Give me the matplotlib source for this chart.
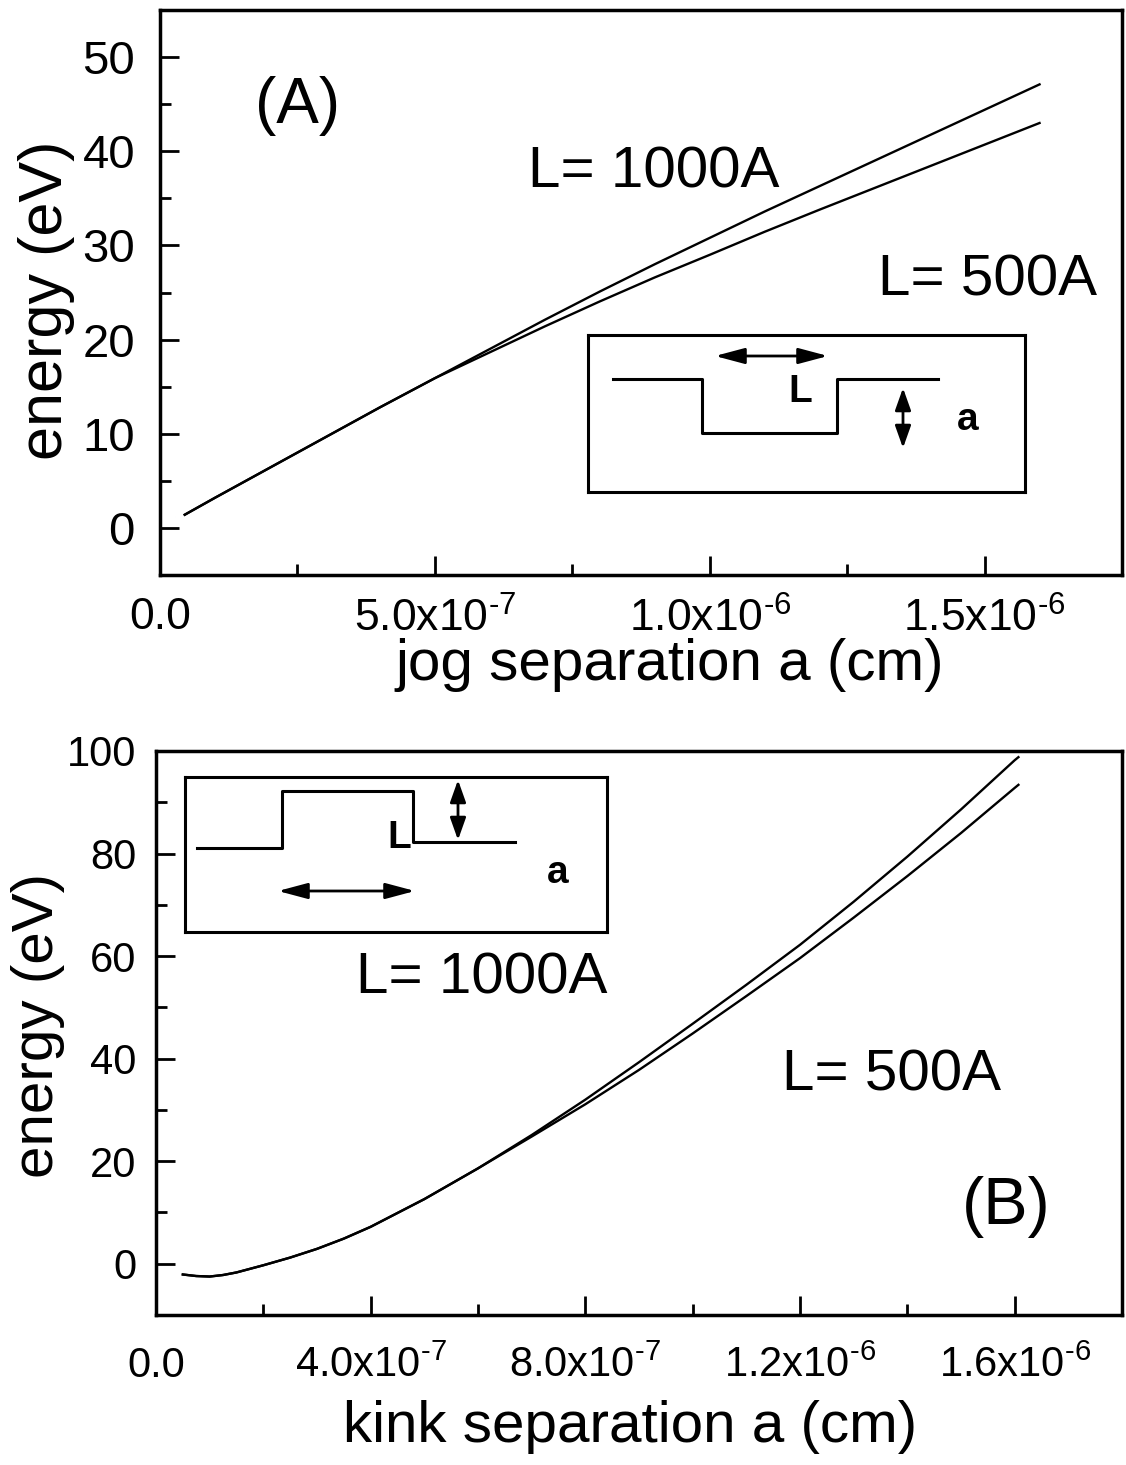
import numpy as np
import matplotlib
matplotlib.use("Agg")
import matplotlib.pyplot as plt
from matplotlib.ticker import MultipleLocator, FuncFormatter

plt.rcParams['font.family'] = ['Liberation Sans', 'DejaVu Sans']
plt.rcParams['mathtext.default'] = 'regular'

# --- values ---
# (A) jog separation a (cm) -> energy (eV)
jog_a = np.array([0.45, 1, 2, 3, 4, 5, 6, 7, 8, 9, 10, 11, 12, 13, 14, 15, 16]) * 1e-7
jog_L1000 = [1.4, 3.2, 6.4, 9.6, 12.8, 15.9, 19.0, 22.1, 25.1, 28.0, 30.8, 33.6, 36.3, 39.0, 41.7, 44.4, 47.1]
jog_L500 = [1.4, 3.2, 6.4, 9.6, 12.8, 15.9, 18.65, 21.4, 24.05, 26.6, 29.0, 31.45, 33.8, 36.1, 38.4, 40.7, 43.0]

# (B) kink separation a (cm) -> energy (eV)
kink_a = np.array([0.5, 0.75, 1.0, 1.25, 1.5, 2, 2.5, 3, 3.5, 4, 5, 6, 7, 8, 9, 10,
                   11, 12, 13, 14, 15, 16, 16.07]) * 1e-7
kink_L1000 = [-2.1, -2.4, -2.5, -2.2, -1.7, -0.3, 1.2, 2.9, 4.9, 7.2, 12.6, 18.6, 25.1,
              32.0, 39.3, 46.8, 54.4, 62.2, 70.6, 79.4, 88.6, 98.2, 98.8]
kink_L500 = [-2.1, -2.4, -2.5, -2.2, -1.7, -0.3, 1.2, 2.9, 4.9, 7.2, 12.6, 18.6, 24.8,
             31.1, 37.8, 44.9, 52.2, 59.6, 67.5, 75.6, 84.0, 92.8, 93.4]

W, H = 1126, 1465


def sci_fmt(v, pos):
    if abs(v) < 1e-12:
        return '0.0'
    exp = int(np.floor(np.log10(abs(v))))
    mant = v / 10**exp
    if round(mant, 1) >= 10:
        mant /= 10
        exp += 1
    # plain hyphen in the exponent, like the original
    return f'{mant:.1f}x10$^{{\u2010{abs(exp)}}}$'


def style_axes(ax, xmaj, xmin, ymaj, ymin, ysize, xsize, xpad, ypad):
    for s in ax.spines.values():
        s.set_linewidth(2.5)
    ax.xaxis.set_major_locator(MultipleLocator(xmaj))
    ax.xaxis.set_minor_locator(MultipleLocator(xmin))
    ax.yaxis.set_major_locator(MultipleLocator(ymaj))
    ax.yaxis.set_minor_locator(MultipleLocator(ymin))
    ax.xaxis.set_major_formatter(FuncFormatter(sci_fmt))
    ax.tick_params(which='both', direction='in', top=False, right=False, width=2)
    ax.tick_params(which='major', length=14)
    ax.tick_params(which='minor', length=8)
    ax.tick_params(axis='y', labelsize=ysize, pad=ypad)
    ax.tick_params(axis='x', labelsize=xsize, pad=xpad)


def px_rect(left, top, w, h):
    return [left / W, 1 - (top + h) / H, w / W, h / H]


def inset(rect_px):
    ax = fig.add_axes(px_rect(*rect_px))
    ax.set_xlim(0, rect_px[2])
    ax.set_ylim(rect_px[3], 0)
    ax.set_xticks([])
    ax.set_yticks([])
    for s in ax.spines.values():
        s.set_linewidth(2.2)
    return ax


def dbl_arrow(ax, p0, p1, hl=0.6):
    ax.annotate('', xy=p1, xytext=p0,
                arrowprops=dict(arrowstyle=f'<|-|>,head_length={hl},head_width=0.16',
                                color='k', lw=2, mutation_scale=30,
                                shrinkA=0, shrinkB=0))


fig = plt.figure(figsize=(W / 100, H / 100), dpi=100)

# ---------------- (A) ----------------
ax1 = fig.add_axes(px_rect(160, 10, 962, 565))
ax1.plot(jog_a, jog_L1000, color='k', lw=1.7)
ax1.plot(jog_a, jog_L500, color='k', lw=1.7)
ax1.set_xlim(0, 1.75e-6)
ax1.set_ylim(-5, 55)
style_axes(ax1, 5e-7, 2.5e-7, 10, 5, 34, 32, 16, 18)
ax1.set_xlabel('jog separation a (cm)', fontsize=42)
ax1.xaxis.set_label_coords(0.530, -0.112)
ax1.set_ylabel('energy (eV)', fontsize=44)
ax1.yaxis.set_label_coords(-0.088, 0.487)
ax1.text(0.1435, 0.830, '(A)', transform=ax1.transAxes, fontsize=46, ha='center', va='center')
ax1.text(0.5135, 0.713, 'L= 1000A', transform=ax1.transAxes, fontsize=42, ha='center', va='center')
ax1.text(0.8597, 0.522, 'L= 500A', transform=ax1.transAxes, fontsize=42, ha='center', va='center')

ins1 = inset((588, 335, 437, 157))
ins1.plot([25, 114, 114, 249, 249, 350], [44, 44, 98, 98, 44, 44], color='k', lw=2.2)
dbl_arrow(ins1, (127, 21), (240, 21))
dbl_arrow(ins1, (315, 53), (315, 113), hl=0.45)
ins1.text(212, 57, 'L', fontsize=28, fontweight='bold', ha='center', va='center')
ins1.text(380, 85, 'a', fontsize=28, fontweight='bold', ha='center', va='center')

# ---------------- (B) ----------------
ax2 = fig.add_axes(px_rect(156, 751, 966, 564))
ax2.plot(kink_a, kink_L1000, color='k', lw=1.7)
ax2.plot(kink_a, kink_L500, color='k', lw=1.7)
ax2.set_xlim(0, 1.8e-6)
ax2.set_ylim(-10, 100)
style_axes(ax2, 4e-7, 2e-7, 20, 10, 30, 30, 22, 14)
ax2.set_xlabel('kink separation a (cm)', fontsize=42)
ax2.xaxis.set_label_coords(0.4907, -0.151)
ax2.set_ylabel('energy (eV)', fontsize=42)
ax2.yaxis.set_label_coords(-0.094, 0.514)
ax2.text(0.3375, 0.5975, 'L= 1000A', transform=ax2.transAxes, fontsize=42, ha='center', va='center')
ax2.text(0.761, 0.424, 'L= 500A', transform=ax2.transAxes, fontsize=42, ha='center', va='center')
ax2.text(0.880, 0.1915, '(B)', transform=ax2.transAxes, fontsize=48, ha='center', va='center')

ins2 = inset((185, 777, 422, 155))
ins2.plot([12, 97, 97, 228, 228, 330], [71, 71, 14, 14, 65, 65], color='k', lw=2.2)
dbl_arrow(ins2, (93, 114), (230, 114))
dbl_arrow(ins2, (273, 3), (273, 63), hl=0.45)
ins2.text(214, 61, 'L', fontsize=28, fontweight='bold', ha='center', va='center')
ins2.text(373, 96, 'a', fontsize=28, fontweight='bold', ha='center', va='center')

fig.savefig('out.png', dpi=100)
